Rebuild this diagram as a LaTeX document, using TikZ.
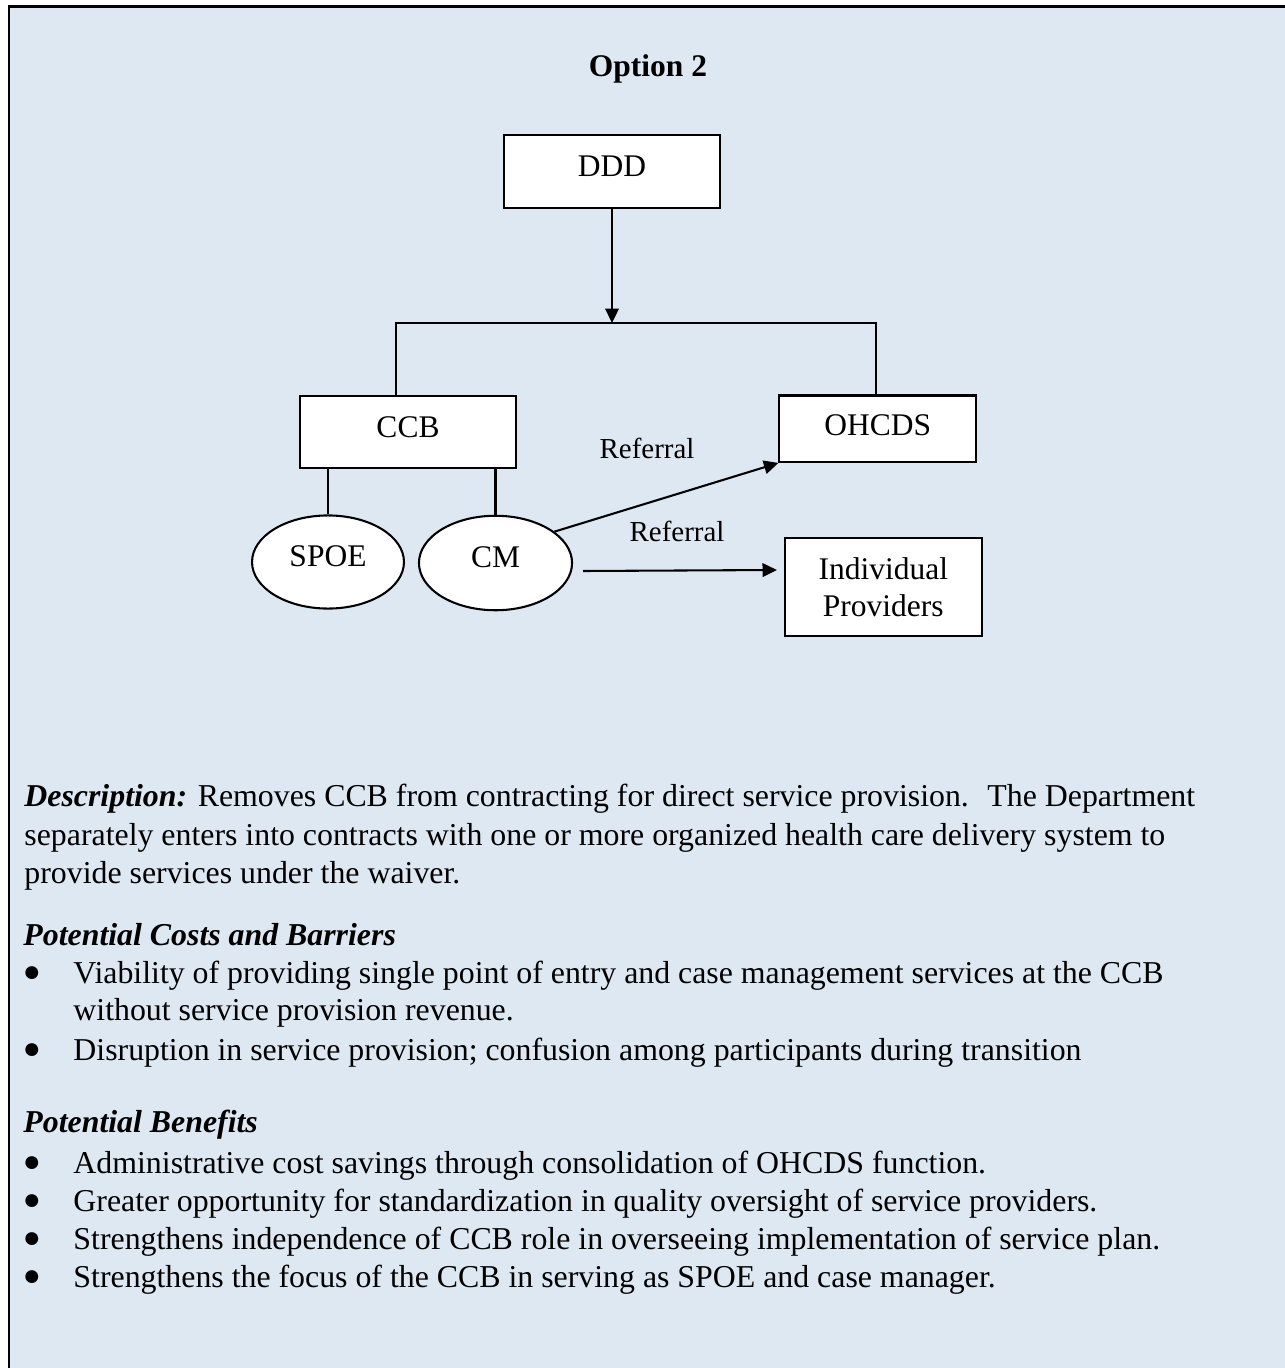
\documentclass[tikz,border=0pt]{standalone}
\usepackage{fontspec}
\setmainfont{Liberation Serif}
\usetikzlibrary{shapes.geometric,arrows.meta,calc}

\definecolor{panelblue}{RGB}{222,232,242}

\tikzset{
  box/.style={draw, fill=white, line width=0.9pt, inner sep=0pt, text depth=4.4pt,
    font=\fontsize{13.7}{16}\selectfont},
  oval/.style={draw, fill=white, ellipse, line width=0.9pt, inner sep=0pt, text depth=5.5pt,
    font=\fontsize{13.7}{16}\selectfont},
  link/.style={line width=0.9pt},
  arr/.style={line width=0.9pt, -{Triangle[length=6.3pt,width=5.9pt]}},
  reflabel/.style={font=\fontsize{12.6}{15}\selectfont, anchor=base, inner sep=0pt},
  body/.style={font=\fontsize{13.85}{16}\selectfont, anchor=base west, inner sep=0pt},
  bul/.style={font=\fontsize{13}{13}\selectfont, anchor=base, inner sep=0pt},
}

\begin{document}
\begin{tikzpicture}[x=0.435pt, y=-0.435pt]
				\useasboundingbox (0,0) rectangle (1285,1368);
				% panel
				\fill[panelblue] (9,7) rectangle (1295,1380);
				\draw[line width=1.3pt] (9,1380) -- (9,7) -- (1295,7);
				
				\node[font=\bfseries\fontsize{13.7}{16}\selectfont, anchor=base] (title) at (648,77) {Option 2};
				
				% chart
				\node[box, minimum width=94pt, minimum height=31.8pt] (ddd) at (612,171.5) {DDD};
				\node[box, minimum width=94pt, minimum height=31.5pt] (ccb) at (408,432) {CCB};
				\node[box, minimum width=85.5pt, minimum height=28.9pt, text depth=3pt] (ohcds) at (877.7,428.7) {OHCDS};
				\node[box, minimum width=85.5pt, minimum height=42.6pt, text depth=0pt, align=center] (ip) at (883.3,587) {Individual\\Providers};
				\node[oval, minimum width=66.1pt, minimum height=40.5pt] (spoe) at (328,562) {SPOE};
				\node[oval, minimum width=66.6pt, minimum height=41.1pt] (cm) at (495.5,563) {CM};
				
				\coordinate (barl) at (396,323);
				\coordinate (barr) at (876,323);
				\draw[link] (ccb.north -| barl) -- (barl) -- (barr) -- (ohcds.north -| barr);
				\draw[arr] (ddd.south) -- (ddd.south |- barl);
				\draw[link] (spoe.north) -- (spoe.north |- ccb.south);
				\draw[link] (cm.north) -- (cm.north |- ccb.south);
				
				\draw[arr] (cm.28) -- (ohcds.south west);
				\draw[arr] ($(cm.east)+(10,8)$) -- ($(ip.west)+(-7,-17)$);
				\node[reflabel] (ref1) at (647,458) {Referral};
				\node[reflabel] (ref2) at (677,541) {Referral};
				
				% text
				\node[body] (desc1) at (24,806) {\textbf{\textit{Description:}} Removes CCB from contracting for direct service provision.~ The Department};
				\node[body] (desc2) at (24,845) {separately enters into contracts with one or more organized health care delivery system to};
				\node[body] (desc3) at (24,883) {provide services under the waiver.};
				
				\node[body] (costs) at (23,945) {\textbf{\textit{Potential Costs and Barriers}}};
				\node[body] (gains) at (23,1132) {\textbf{\textit{Potential Benefits}}};
				
				\foreach \y/\txt in {983/{Viability of providing single point of entry and case management services at the CCB},
					1060/{Disruption in service provision; confusion among participants during transition},
					1173/{Administrative cost savings through consolidation of OHCDS function.},
					1211/{Greater opportunity for standardization in quality oversight of service providers.},
					1249/{Strengthens independence of CCB role in overseeing implementation of service plan.},
					1287/{Strengthens the focus of the CCB in serving as SPOE and case manager.}} {
					\node[bul] (b\y) at (32,\y-2) {●};
					\node[body] (t\y) at (73,\y) {\txt};
				}
				\node[body] (t1020) at (73,1020) {without service provision revenue.};
			\end{tikzpicture}
\end{document}
